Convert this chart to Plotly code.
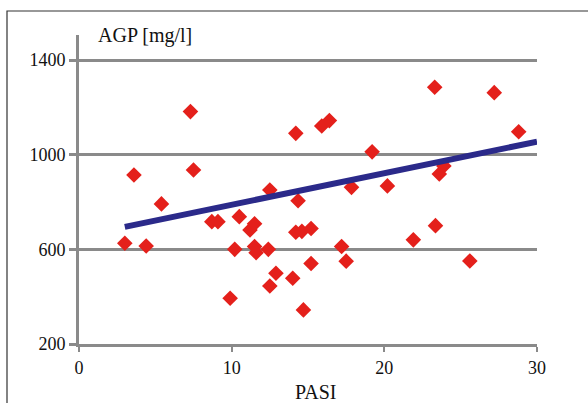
import plotly.graph_objects as go

# Data
pasi = [3.0, 4.4, 3.6, 5.4, 7.3, 7.5, 8.7, 9.1, 9.9, 10.2, 10.5, 11.2, 11.5, 11.5,
        11.6, 12.4, 12.5, 12.9, 12.5, 14.0, 14.7, 14.2, 14.6, 15.2, 14.35, 14.2,
        15.9, 16.4, 15.2, 17.2, 17.5, 17.85, 19.2, 20.2, 21.9, 23.35, 23.6, 23.9,
        23.3, 25.6, 27.2, 28.8]
agp = [626, 614, 914, 792, 1182, 935, 717, 717, 393, 600, 738, 682, 708, 612,
       586, 600, 445, 499, 851, 478, 344, 672, 676, 688, 805, 1090,
       1121, 1144, 540, 612, 550, 862, 1012, 868, 640, 700, 918, 952,
       1285, 551, 1262, 1097]
trend_x = [3, 30]
trend_y = [695, 1055]
x_ticks = [0, 10, 20, 30]
y_ticks = [200, 600, 1000, 1400]

W, H = 588, 403
L, R, T, B = 79, 537, 35, 344
ymin = 200
ymax = 200 + (B - T) * (1200 / (344 - 60))

fig = go.Figure()
fig.add_trace(go.Scatter(x=pasi, y=agp, mode="markers",
                         marker=dict(symbol="diamond", size=12, color="#e4201b",
                                     line=dict(width=0)),
                         showlegend=False))
fig.add_trace(go.Scatter(x=trend_x, y=trend_y, mode="lines",
                         line=dict(color="#2b2a8a", width=6),
                         showlegend=False))

gray = "#8a8a8a"
font = "Liberation Serif, Times New Roman, serif"
fig.update_layout(
    width=W, height=H,
    margin=dict(l=L, r=W - R, t=T, b=H - B),
    paper_bgcolor="white", plot_bgcolor="white",
    font=dict(family=font, size=18, color="#111"),
    xaxis=dict(range=[0, 30], tickvals=x_ticks, showgrid=False, zeroline=False,
               showline=True, linecolor=gray, linewidth=3,
               ticks="outside", ticklen=5, tickwidth=2, tickcolor=gray,
               tickfont=dict(family=font, size=18)),
    yaxis=dict(range=[ymin, ymax], tickvals=y_ticks, showgrid=True, gridcolor=gray,
               gridwidth=3, zeroline=False, showline=True, linecolor=gray, linewidth=3,
               ticks="outside", ticklen=7, tickwidth=3, tickcolor=gray,
               tickfont=dict(family=font, size=18)),
    annotations=[
        dict(text="AGP [mg/l]", x=(96 - L) / (R - L), y=(B - 36) / (B - T),
             xref="paper", yref="paper", xanchor="left", yanchor="middle",
             showarrow=False, font=dict(family=font, size=20, color="#111")),
        dict(text="PASI", x=(316 - L) / (R - L), y=(B - 392) / (B - T),
             xref="paper", yref="paper", xanchor="center", yanchor="middle",
             showarrow=False, font=dict(family=font, size=20, color="#111")),
    ],
    shapes=[
        dict(type="rect", xref="paper", yref="paper",
             x0=(7 - L) / (R - L), x1=(620 - L) / (R - L),
             y0=(B - 430) / (B - T), y1=(B - 11) / (B - T),
             line=dict(color="#333", width=1.2), fillcolor="rgba(0,0,0,0)",
             layer="below"),
    ],
)
fig.write_html("out.html", config={"displayModeBar": False},
               post_script="document.body.style.margin='0';document.body.style.overflow='hidden';")
